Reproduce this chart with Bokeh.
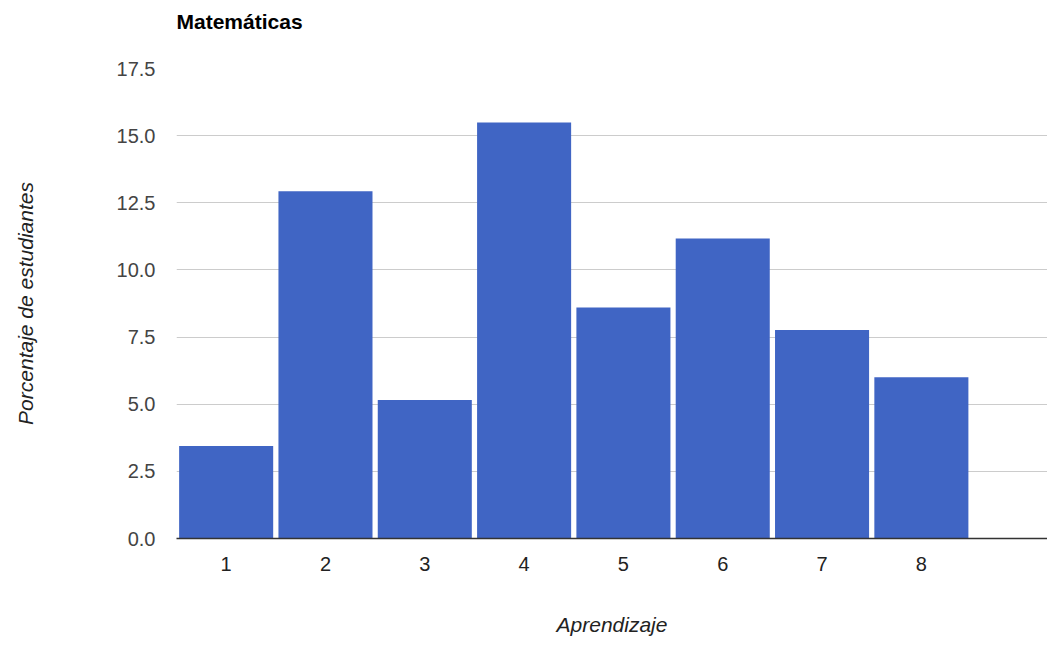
from bokeh.plotting import figure
from bokeh.models import FixedTicker, NumeralTickFormatter, Range1d, Title
from bokeh.embed import file_html
from bokeh.resources import INLINE

# Data
aprendizaje = [1, 2, 3, 4, 5, 6, 7, 8]
porcentaje = [3.44, 12.93, 5.16, 15.49, 8.60, 11.17, 7.76, 6.00]
y_ticks = [0, 2.5, 5.0, 7.5, 10.0, 12.5, 15.0, 17.5]
title_text = "Matemáticas"
x_label = "Aprendizaje"
y_label = "Porcentaje de estudiantes"

FONT = "Liberation Sans"

p = figure(frame_width=871, frame_height=470, output_backend="svg", toolbar_location=None,
           x_range=Range1d(0.5, 9.27), y_range=Range1d(0, 17.5),
           min_border_left=176, min_border_top=68, min_border_bottom=100,
           min_border_right=0, title=title_text)
p.outline_line_color = None

# real title (outer), plus an invisible spacer title next to the frame
p.title.text_font = FONT
p.title.text_font_size = "21px"
p.title.text_font_style = "bold"
p.title.text_color = "#000000"
p.title.align = "left"
p.title.standoff = 0

spacer = Title(text=" ", text_font_size="1px", text_color="#ffffff", standoff=33)
p.add_layout(spacer, "above")

p.vbar(x=aprendizaje, top=porcentaje, width=0.947, color="#4065c4", line_color=None)

# axes
p.xaxis.ticker = FixedTicker(ticks=aprendizaje)
p.yaxis.ticker = FixedTicker(ticks=y_ticks)
p.yaxis.formatter = NumeralTickFormatter(format="0.0")

for ax in (p.xaxis[0], p.yaxis[0]):
    ax.major_tick_line_color = None
    ax.minor_tick_line_color = None
    ax.major_label_text_font = FONT
    ax.major_label_text_font_size = "20px"
    ax.axis_label_text_font = FONT
    ax.axis_label_text_font_size = "21px"
    ax.axis_label_text_font_style = "italic"
    ax.axis_label_text_color = "#222222"

p.yaxis.axis_line_color = None
p.yaxis.major_label_text_color = "#444444"
p.yaxis.major_label_standoff = 15
p.yaxis.axis_label = y_label
p.yaxis.axis_label_standoff = 77

p.xaxis.axis_line_color = "#333333"
p.xaxis.axis_line_width = 1.5
p.xaxis.major_label_text_color = "#222222"
p.xaxis.major_label_standoff = 12
p.xaxis.axis_label = x_label
p.xaxis.axis_label_standoff = 39

p.xgrid.grid_line_color = None
p.ygrid.grid_line_color = "#cccccc"
p.ygrid.grid_line_width = 1

open("out.html", "w").write(file_html(p, INLINE))
